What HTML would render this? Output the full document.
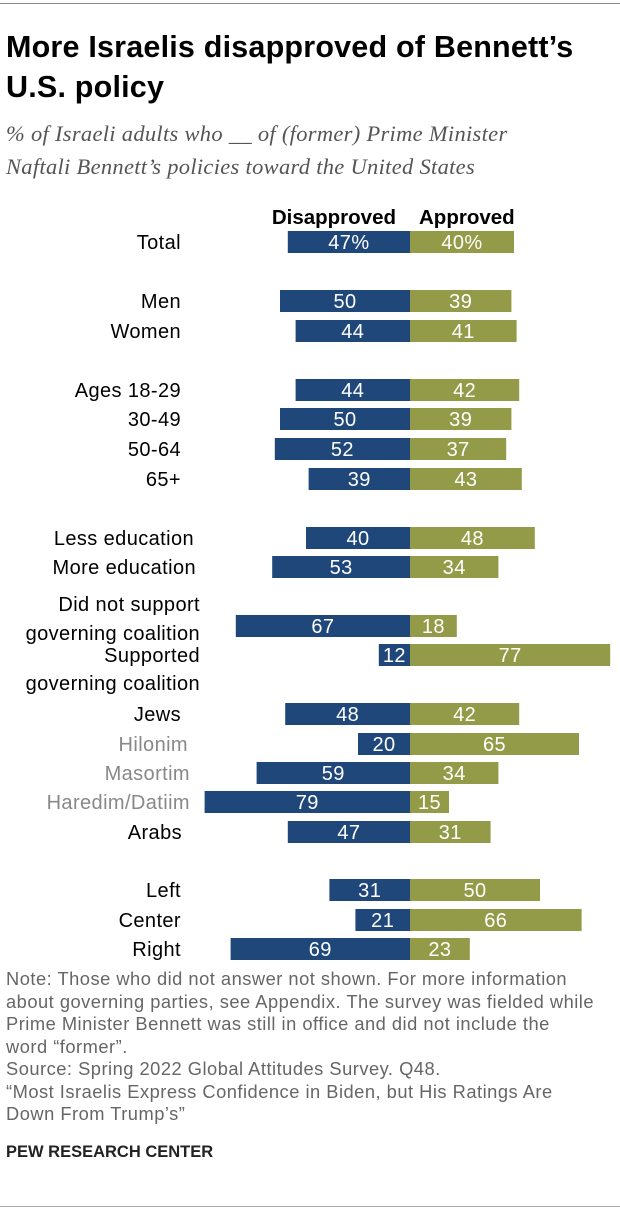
<!DOCTYPE html>
<html><head><meta charset="utf-8"><style>
body{margin:0;background:#fff;width:620px;height:1228px;overflow:hidden;font-family:"Liberation Sans",Arial,sans-serif;}
#wrap{position:relative;width:620px;height:1228px;}
.rule{position:absolute;left:0;width:620px;height:1px;background:#888;}
h1{position:absolute;left:6px;top:27px;margin:0;font-size:30.5px;line-height:40px;font-weight:bold;color:#000;white-space:nowrap;letter-spacing:0.2px}
.sub{position:absolute;left:6px;top:117px;font-family:"Liberation Serif",serif;font-style:italic;font-size:22.5px;line-height:33px;color:#555;letter-spacing:0.3px;white-space:nowrap}
.note{position:absolute;left:6px;top:968px;font-size:18.3px;line-height:22.5px;color:#666;white-space:nowrap;letter-spacing:0.5px}
.pew{position:absolute;left:6px;top:1143px;font-size:16.5px;font-weight:bold;color:#222}
svg{position:absolute;left:0;top:0}
</style></head><body>
<div id="wrap">
<div class="rule" style="top:3px"></div>
<h1>More Israelis disapproved of Bennett’s<br>U.S. policy</h1>
<div class="sub">% of Israeli adults who __ of (former) Prime Minister<br>Naftali Bennett’s policies toward the United States</div>
<svg id="chart" width="620" height="970"></svg>
<div class="note">Note: Those who did not answer not shown. For more information<br>about governing parties, see Appendix. The survey was fielded while<br>Prime Minister Bennett was still in office and did not include the<br>word “former”.<br>Source: Spring 2022 Global Attitudes Survey. Q48.<br>“Most Israelis Express Confidence in Biden, but His Ratings Are<br>Down From Trump’s”</div>
<div class="pew">PEW RESEARCH CENTER</div>
<div class="rule" style="top:1206px;background:#aaa"></div>
</div>
<script>
const categories=["Total","Men","Women","Ages 18-29","30-49","50-64","65+","Less education","More education","Did not support|governing coalition","Supported|governing coalition","Jews","Hilonim","Masortim","Haredim/Datiim","Arabs","Left","Center","Right"];
const disapproved=[47,50,44,44,50,52,39,40,53,67,12,48,20,59,79,47,31,21,69];
const approved=[40,39,41,42,39,37,43,48,34,18,77,42,65,34,15,31,50,66,23];
const subgroup=[false,false,false,false,false,false,false,false,false,false,false,false,true,true,true,false,false,false,false];
const rowY=[242,301,331,390,419,449,479,538,567,626,655,714,744,773,802,832,890,920,949];
const labelRight=[181,181,181,181,181,181,181,194,196,200,200,181,188,190,190,182,181,181,181];
const NS="http://www.w3.org/2000/svg";
const svg=document.getElementById('chart');
const cx=410,scale=2.6,bh=22;
const FF='Liberation Sans, Arial, sans-serif';
function x(v){return v*scale;}
function mk(tag,attrs,txt){const e=document.createElementNS(NS,tag);for(const k in attrs)e.setAttribute(k,attrs[k]);if(txt!==undefined)e.textContent=txt;svg.appendChild(e);return e;}
let h1=mk('text',{x:396,y:224,'text-anchor':'end','font-size':20.5,'font-weight':'bold','font-family':FF,fill:'#000'},'Disapproved');


let h2=mk('text',{x:419,y:224,'text-anchor':'start','font-size':20.5,'font-weight':'bold','font-family':FF,fill:'#000'},'Approved');


categories.forEach((c,i)=>{
  const y=rowY[i];
  const parts=c.split('|');
  const col=subgroup[i]?'#888':'#000';
  parts.forEach((p,j)=>{
    let ty=y+7;
    if(parts.length>1){ ty = (i===9) ? (j==0?y-22+7:y+7+7) : (j==0?y+7:y+28+7); }
    let t=mk('text',{x:labelRight[i],y:ty,'text-anchor':'end','font-size':20,'letter-spacing':0.4,'font-family':FF,fill:col},p);
    
    
  });
  const d=disapproved[i],a=approved[i];
  let b1=mk('rect',{x:cx-x(d),y:y-bh/2,width:x(d),height:bh,fill:'#20477a'});
  
  
  let b2=mk('rect',{x:cx,y:y-bh/2,width:x(a),height:bh,fill:'#949b48'});
  
  
  let t1=mk('text',{x:cx-x(d)/2,y:y+7,'text-anchor':'middle','font-size':20,'letter-spacing':0.4,'font-family':FF,fill:'#fff'},d+(i==0?'%':''));
  
  
  let t2=mk('text',{x:cx+x(a)/2,y:y+7,'text-anchor':'middle','font-size':20,'letter-spacing':0.4,'font-family':FF,fill:'#fff'},a+(i==0?'%':''));
  
  
});
</script>
</body></html>
